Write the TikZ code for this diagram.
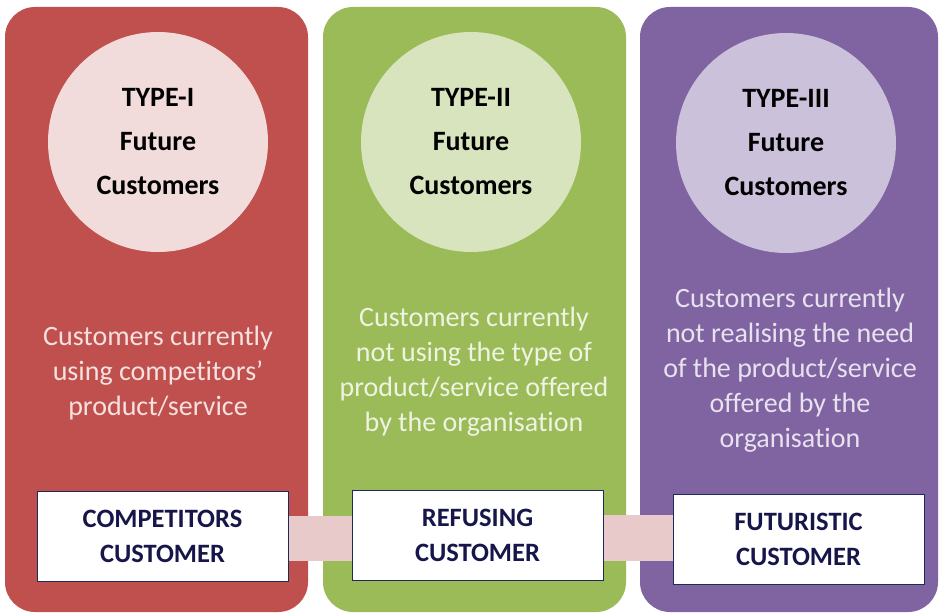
\documentclass[tikz,border=0pt]{standalone}
\usepackage{fontspec}
\setmainfont{Carlito}[Ligatures={NoCommon,NoRequired,NoContextual}]
\definecolor{pred}{HTML}{C0504D}
\definecolor{pgreen}{HTML}{9BBB59}
\definecolor{ppurple}{HTML}{8064A2}
\definecolor{cred}{HTML}{F2DCDB}
\definecolor{cgreen}{HTML}{D7E4BD}
\definecolor{cpurple}{HTML}{CCC1DA}
\definecolor{tred}{HTML}{F5E1E0}
\definecolor{tgreen}{HTML}{EEF3E2}
\definecolor{tpurple}{HTML}{E8E2EF}
\definecolor{navy}{HTML}{16164A}
\definecolor{boxline}{HTML}{1F2A5C}
\definecolor{band}{HTML}{E8CACA}
\begin{document}
\begin{tikzpicture}[x=1pt,y=-1pt,
  panel/.style={rounded corners=30pt},
  circ/.style={circle,minimum size=220pt,inner sep=0pt,align=center,
    font=\fontsize{28}{44}\selectfont\bfseries,text=black},
  desc/.style={align=center,font=\fontsize{28}{35}\selectfont},
  labelbox/.style={draw=boxline,line width=1pt,fill=white,minimum width=251pt,minimum height=90pt,
    align=center,inner sep=0pt,font=\fontsize{26.5}{35}\selectfont\bfseries,text=navy},
  bandbar/.style={fill=band,draw=none}]
\useasboundingbox (0,0) rectangle (940,615);
\fill[white] (0,0) rectangle (940,615);
% panels
\fill[pred,panel] (5,7) rectangle (308,612);
\fill[pgreen,panel] (323,7) rectangle (626,612);
\fill[ppurple,panel] (640,7) rectangle (938,612);
% circles
\node[circ,fill=cred] (c1) at (158,142) {TYPE-I\\Future\\Customers};
\node[circ,fill=cgreen] (c2) at (471,142) {TYPE-II\\Future\\Customers};
\node[circ,fill=cpurple] (c3) at (786,143) {TYPE-III\\Future\\Customers};
% descriptions
\node[desc,text=tred] (d1) at (158,373) {Customers currently\\using competitors\symbol{39}\\product/service};
\node[desc,text=tgreen] (d2) at (474,372) {Customers currently\\not using the type of\\product/service offered\\by the organisation};
\node[desc,text=tpurple] (d3) at (790,370) {Customers currently\\not realising the need\\of the product/service\\offered by the\\organisation};
% boxes
\node[labelbox] (b1) at (162.5,536.5) {COMPETITORS\\CUSTOMER};
\node[labelbox] (b2) at (477.5,535.5) {REFUSING\\CUSTOMER};
\node[labelbox] (b3) at (798.5,539.5) {FUTURISTIC\\CUSTOMER};
% connecting bands
\path[bandbar] ([yshift=-1pt]b1.east |- 0,515) rectangle ([yshift=1pt]b2.west |- 0,562);
\path[bandbar] (b2.east |- 0,515) rectangle (b3.west |- 0,561);
\end{tikzpicture}
\end{document}
